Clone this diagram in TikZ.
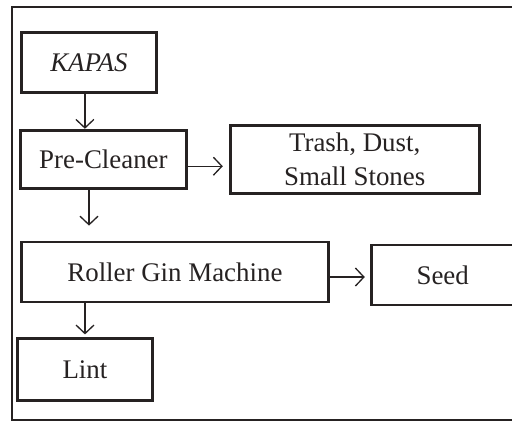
\documentclass[tikz,border=0pt]{standalone}
\usepackage{fontspec}
\setmainfont{Liberation Serif}
\usetikzlibrary{arrows.meta, positioning}
\definecolor{ginInk}{HTML}{262222}

\begin{document}
\begin{tikzpicture}[font=\fontsize{15.3}{19}\selectfont, text=ginInk,
        stage/.style={draw=ginInk, line width=1.6pt, align=center, inner sep=0pt, minimum height=1.2cm},
        arr/.style={-{Straight Barb[length=1.7mm, width=3.6mm]}, ginInk, line width=0.75pt}]
        \useasboundingbox (0,0) rectangle (10.24,-8.46);
        % outer frame, open on the right
        \draw[ginInk, line width=1.7pt] (10.4,-0.14) -- (0.24,-0.14) -- (0.24,-8.4) -- (10.4,-8.4);
        \node[stage, minimum width=2.7cm, anchor=north west] (kapas) at (0.4,-0.62) {\itshape KAPAS};
        \node[stage, minimum width=3.32cm, minimum height=1.16cm, below=0.7cm of kapas.south west, anchor=north west, xshift=-0.02cm] (pre) {Pre-Cleaner};
        \node[stage, minimum width=4.98cm, minimum height=1.36cm, right=0.82cm of pre] (trash) {Trash, Dust,\\Small Stones};
        \node[stage, minimum width=6.14cm, below=1.02cm of pre.south west, anchor=north west, xshift=0.02cm] (roller) {Roller Gin Machine};
        \node[stage, minimum width=2.86cm, right=0.8cm of roller, yshift=-0.06cm] (seed) {Seed};
        \node[stage, minimum width=2.7cm, minimum height=1.24cm, below=0.68cm of roller.south west, anchor=north west, xshift=-0.08cm] (lint) {Lint};
        \draw[arr] ([xshift=-0.08cm]kapas.south) -- ([xshift=-0.08cm]kapas.south |- pre.north);
        \draw[arr, shorten >=0.12cm] ([yshift=-0.14cm]pre.east) -- ([yshift=-0.14cm]pre.east -| trash.west);
        \draw[arr, shorten >=0.3cm] ([xshift=1.4cm]pre.south west) -- ([xshift=1.4cm]pre.south west |- roller.north);
        \draw[arr, shorten >=0.1cm] ([yshift=-0.1cm]roller.east) -- ([yshift=-0.1cm]roller.east -| seed.west);
        \draw[arr, shorten >=0.06cm] ([xshift=1.3cm]roller.south west) -- ([xshift=1.3cm]roller.south west |- lint.north);
      \end{tikzpicture}
\end{document}
